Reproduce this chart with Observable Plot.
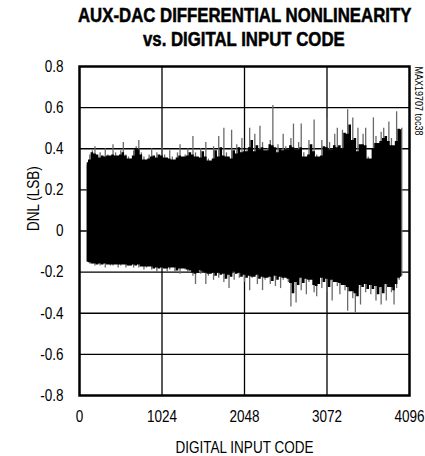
<!DOCTYPE html>
<html>
<head>
<meta charset="utf-8">
<script src="https://cdn.jsdelivr.net/npm/d3@7"></script>
<script src="https://cdn.jsdelivr.net/npm/@observablehq/plot@0.6"></script>
<style>
  html, body { margin: 0; padding: 0; background: #fff; }
  body { width: 425px; height: 456px; overflow: hidden; }
  #title {
    position: relative; width: 425px; height: 56px;
    font-weight: bold; font-size: 19.5px; line-height: 24px;
    font-family: "Liberation Sans", Arial, sans-serif; color: #000;
    -webkit-text-stroke: 0.5px #000;
  }
  #title span { position: absolute; left: 244px; white-space: nowrap; transform-origin: 0 0; }
</style>
</head>
<body>
<div id="title"><span id="t1" style="top:3px">AUX-DAC DIFFERENTIAL NONLINEARITY</span><span id="t2" style="top:27px">vs. DIGITAL INPUT CODE</span></div>
<div id="chart"></div>
<script>
// Digital input code: one sample column every 32 codes, 96 ... 4000
const codeStart = 96, codeStep = 32;
// Upper extreme of DNL (LSB) in each column
const dnlTop = [
  0.32,0.37,0.39,0.41,0.36,0.38,0.35,0.40,0.37,0.36,
  0.42,0.38,0.35,0.39,0.43,0.37,0.36,0.34,0.39,0.41,
  0.44,0.38,0.36,0.33,0.37,0.40,0.35,0.38,0.36,0.41,
  0.37,0.34,0.39,0.36,0.33,0.38,0.42,0.35,0.37,0.40,
  0.36,0.46,0.38,0.34,0.40,0.37,0.43,0.35,0.33,0.41,
  0.37,0.46,0.35,0.50,0.38,0.34,0.49,0.36,0.42,0.39,
  0.45,0.37,0.40,0.50,0.41,0.47,0.36,0.51,0.43,0.38,
  0.40,0.44,0.61,0.39,0.42,0.37,0.47,0.41,0.38,0.45,
  0.52,0.36,0.43,0.52,0.38,0.34,0.44,0.40,0.54,0.37,
  0.35,0.44,0.38,0.55,0.43,0.36,0.47,0.50,0.34,0.49,
  0.46,0.59,0.48,0.55,0.40,0.50,0.37,0.47,0.50,0.36,
  0.34,0.55,0.46,0.39,0.48,0.50,0.42,0.53,0.45,0.38,
  0.58,0.49,0.50
];
// Lower extreme of DNL (LSB) in each column
const dnlBot = [
  -0.15,-0.16,-0.16,-0.17,-0.16,-0.17,-0.16,-0.18,-0.16,-0.17,
  -0.17,-0.16,-0.18,-0.17,-0.16,-0.18,-0.17,-0.17,-0.18,-0.16,
  -0.18,-0.17,-0.19,-0.18,-0.17,-0.19,-0.18,-0.20,-0.18,-0.19,
  -0.18,-0.20,-0.19,-0.17,-0.20,-0.19,-0.21,-0.18,-0.19,-0.20,
  -0.19,-0.22,-0.26,-0.20,-0.21,-0.19,-0.26,-0.22,-0.20,-0.24,
  -0.21,-0.23,-0.20,-0.25,-0.22,-0.28,-0.21,-0.24,-0.19,-0.23,
  -0.22,-0.25,-0.21,-0.29,-0.23,-0.22,-0.26,-0.21,-0.29,-0.24,
  -0.22,-0.26,-0.23,-0.27,-0.21,-0.28,-0.24,-0.22,-0.25,-0.37,
  -0.26,-0.35,-0.24,-0.29,-0.22,-0.31,-0.25,-0.23,-0.30,-0.32,
  -0.24,-0.28,-0.22,-0.30,-0.25,-0.34,-0.23,-0.27,-0.31,-0.24,
  -0.29,-0.39,-0.26,-0.33,-0.40,-0.28,-0.36,-0.25,-0.30,-0.27,
  -0.31,-0.26,-0.34,-0.28,-0.36,-0.27,-0.34,-0.25,-0.30,-0.36,
  -0.28,-0.24,-0.22
];
const xTicks = [0, 1024, 2048, 3072, 4096];
const yTicks = [-0.8, -0.6, -0.4, -0.2, 0, 0.2, 0.4, 0.6, 0.8];
const xLabel = "DIGITAL INPUT CODE";
const yLabel = "DNL (LSB)";
const note = "MAX19707 toc38";

// dense core: between the least extreme and the median value of each column and its neighbours
const win = (arr, i) => arr.slice(Math.max(0, i - 1), i + 2);
const cols = dnlTop.map((t, i) => ({
  code: codeStart + codeStep * i,
  top: t,
  bot: dnlBot[i],
  coreHi: (d3.min(win(dnlTop, i)) + d3.median(win(dnlTop, i))) / 2,
  coreLo: (d3.max(win(dnlBot, i)) + d3.median(win(dnlBot, i))) / 2
}));

const font = '"Liberation Sans", Arial, sans-serif';
const chart = Plot.plot({
  width: 425,
  height: 400,
  marginLeft: 79,
  marginRight: 16,
  marginTop: 10,
  marginBottom: 61,
  style: { fontFamily: font, fontSize: "16.5px", background: "#fff", color: "#000", overflow: "visible" },
  x: { domain: [0, 4096] },
  y: { domain: [-0.8, 0.8] },
  marks: [
    Plot.gridX(xTicks.slice(1, -1), { stroke: "#000", strokeOpacity: 1, strokeWidth: 1.3 }),
    Plot.gridY(yTicks.slice(1, -1), { stroke: "#000", strokeOpacity: 1, strokeWidth: 1.3 }),
    Plot.ruleX(cols, { x: "code", y1: "bot", y2: "top", stroke: "#6a6a6a", strokeWidth: 1.3 }),
    Plot.areaY(cols, { x: "code", y1: "coreLo", y2: "coreHi", curve: "step", fill: "#000" }),
    Plot.axisX({ ticks: xTicks, tickSize: 0, tickPadding: 15, tickFormat: d => String(d), label: null, fontSize: 16.5 }),
    Plot.axisY({ ticks: yTicks, tickSize: 0, tickPadding: 16, tickFormat: d => d === 0 ? "0" : d.toFixed(1), label: null, fontSize: 16.5 }),
    Plot.text([xLabel], { frameAnchor: "bottom", dy: 57, fontSize: 16.5, text: d => d }),
    Plot.text([yLabel], { frameAnchor: "left", dx: -46, rotate: -90, fontSize: 16.5, text: d => d }),
    Plot.text([note], { frameAnchor: "top-right", dx: 13.5, rotate: 90, textAnchor: "start", fontSize: 11, text: d => d }),
    Plot.frame({ stroke: "#000", strokeWidth: 2.5 })
  ]
});
document.getElementById("chart").appendChild(chart);

// Narrow the Helvetica-like face horizontally (the reference uses a condensed face)
const squeeze = 0.82;
chart.querySelectorAll("text").forEach(el => {
  const tr = el.getAttribute("transform");
  if (tr) {
    el.setAttribute("transform", tr + ` scale(${squeeze},1)`);
  } else {
    const x = +(el.getAttribute("x") || 0);
    el.setAttribute("transform", `translate(${x},0) scale(${squeeze},1) translate(${-x},0)`);
  }
});

// Title: condensed, centred over the plot frame
const t1 = document.getElementById("t1"), t2 = document.getElementById("t2");
const s = 333 / t1.offsetWidth;
[t1, t2].forEach(t => {
  const w = t.offsetWidth * s;
  t.style.left = (244 - w / 2) + "px";
  t.style.transform = `scale(${s},1)`;
});
</script>
</body>
</html>
